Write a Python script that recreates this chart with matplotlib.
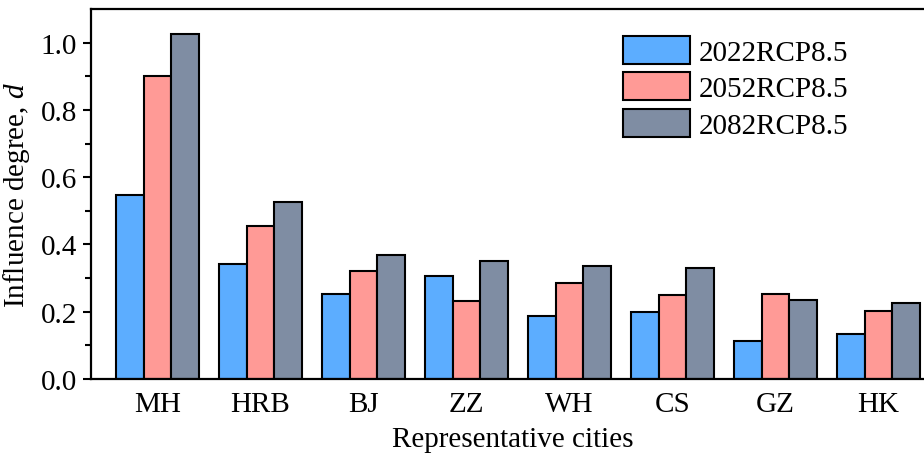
import matplotlib
matplotlib.use("Agg")
import matplotlib.pyplot as plt
import numpy as np

plt.rcParams["font.family"] = ["Liberation Serif", "DejaVu Serif"]
plt.rcParams["mathtext.fontset"] = "custom"
plt.rcParams["mathtext.it"] = "Liberation Serif:italic"

cities = ["MH", "HRB", "BJ", "ZZ", "WH", "CS", "GZ", "HK"]
series_names = ["2022RCP8.5", "2052RCP8.5", "2082RCP8.5"]
d_2022 = [0.548, 0.341, 0.253, 0.305, 0.186, 0.198, 0.113, 0.134]
d_2052 = [0.901, 0.456, 0.321, 0.233, 0.285, 0.251, 0.253, 0.203]
d_2082 = [1.025, 0.525, 0.368, 0.352, 0.336, 0.329, 0.236, 0.227]
colors = ["#5CADFF", "#FF9A96", "#7F8DA3"]

fig = plt.figure(figsize=(9.24, 4.6), dpi=100)
ax = fig.add_axes([91 / 924, 1 - 380 / 460, (935 - 91) / 924, 370 / 460])

x = np.arange(len(cities))
w = 0.268
for i, (vals, name, c) in enumerate(zip([d_2022, d_2052, d_2082], series_names, colors)):
    ax.bar(x + (i - 1) * w, vals, w, color=c, edgecolor="black", linewidth=1.5,
           label=name, zorder=2)

ax.set_xlim(-0.646, 7.55)
ax.set_ylim(0, 1.10)
ax.set_yticks(np.arange(0, 1.01, 0.2))
ax.set_yticks(np.arange(0.1, 1.01, 0.2), minor=True)
ax.set_yticklabels([f"{v:.1f}" for v in np.arange(0, 1.01, 0.2)])
ax.set_xticks(x)
ax.set_xticklabels(cities)
ax.tick_params(axis="y", which="major", direction="out", length=6, width=1.5,
               labelsize=21, pad=4)
ax.tick_params(axis="y", which="minor", direction="out", length=4, width=1.5)
ax.tick_params(axis="x", length=0, labelsize=21, pad=9)
for sp in ax.spines.values():
    sp.set_linewidth(1.6)

ax.set_xlabel("Representative cities", fontsize=21, labelpad=6)
ax.set_ylabel("Influence degree, $\\mathit{d}$", fontsize=21)
ax.yaxis.set_label_coords((32 - 91) / 844, 0.5)

ax.legend(loc="upper left", bbox_to_anchor=(623 / 924, 1 - 37 / 460),
          bbox_transform=fig.transFigure, frameon=False, fontsize=21,
          handlelength=2.3, handleheight=1.1, labelspacing=0.22,
          handletextpad=0.3, borderpad=0, borderaxespad=0)

fig.savefig("out.png", dpi=100)
